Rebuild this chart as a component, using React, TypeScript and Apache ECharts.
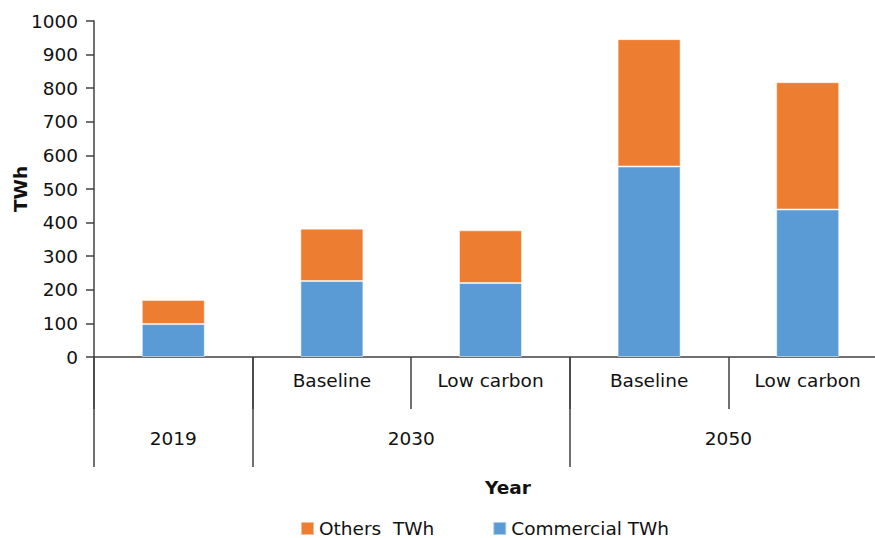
import React, { useEffect, useRef } from "react";
import * as echarts from "echarts";

const scenarioLabels = ["", "Baseline", "Low carbon", "Baseline", "Low carbon"];
const yearSlots = ["", "2019", "", "", "2030", "", "", "", "2050", "", ""];
const yearTickSlots = [0, 2, 6, 10];
const commercialTWh = [98, 226, 220, 567, 439];
const othersTWh = [72, 156, 157, 379, 379];
const yTicks = [0, 1000, 100];

const FONT = "DejaVu Sans";
const FS = 18.5;

export default function App() {
  const ref = useRef<HTMLDivElement>(null);
  useEffect(() => {
    const chart = echarts.init(ref.current!, undefined, { renderer: "svg" });
    chart.setOption({
      animation: false,
      textStyle: { fontFamily: FONT },
      grid: {
        left: 94,
        right: -12,
        top: 21,
        bottom: 181,
        containLabel: false,
        outerBoundsMode: "none",
      },
      legend: {
        left: 295,
        top: 514,
        itemWidth: 13,
        itemHeight: 13,
        itemGap: 58,
        icon: "rect",
        textStyle: { fontFamily: FONT, fontSize: FS, color: "#111" },
        data: ["Others  TWh", "Commercial TWh"],
      },
      xAxis: [
        {
          type: "category",
          data: scenarioLabels,
          position: "bottom",
          axisLine: { show: true, lineStyle: { color: "#404040", width: 1.5 } },
          axisTick: { show: true, length: 52, interval: 0, lineStyle: { color: "#404040", width: 1.5 } },
          axisLabel: { interval: 0, margin: 14, fontFamily: FONT, fontSize: FS, color: "#111" },
        },
        {
          type: "category",
          data: yearSlots,
          boundaryGap: false,
          position: "bottom",
          axisLine: { show: false },
          axisTick: {
            show: true,
            length: 110,
            interval: (i: number) => yearTickSlots.includes(i),
            lineStyle: { color: "#404040", width: 1.5 },
          },
          axisLabel: { interval: 0, margin: 72, fontFamily: FONT, fontSize: FS, color: "#111" },
        },
      ],
      yAxis: {
        type: "value",
        min: yTicks[0],
        max: yTicks[1],
        interval: yTicks[2],
        name: "TWh",
        nameLocation: "middle",
        nameGap: 64,
        nameRotate: 90,
        nameMoveOverlap: false,
        nameTextStyle: { fontFamily: FONT, fontSize: FS, fontWeight: "bold", color: "#111" },
        splitLine: { show: false },
        axisLine: { show: true, lineStyle: { color: "#404040", width: 1.5 } },
        axisTick: { show: true, length: 8, lineStyle: { color: "#404040", width: 1.5 } },
        axisLabel: {
          margin: 16,
          fontFamily: FONT,
          fontSize: FS,
          color: "#111",
          formatter: (v: number) => String(v),
        },
      },
      graphic: [
        {
          type: "text",
          x: 508,
          y: 487,
          style: {
            text: "Year",
            align: "center",
            verticalAlign: "middle",
            fontFamily: FONT,
            fontSize: FS,
            fontWeight: "bold",
            fill: "#111",
          },
        },
      ],
      series: [
        {
          name: "Commercial TWh",
          type: "bar",
          stack: "total",
          xAxisIndex: 0,
          barWidth: 63,
          data: commercialTWh,
          itemStyle: { color: "#5B9BD5", borderColor: "rgba(255,255,255,0.5)", borderWidth: 1 },
        },
        {
          name: "Others  TWh",
          type: "bar",
          stack: "total",
          xAxisIndex: 0,
          barWidth: 63,
          data: othersTWh,
          itemStyle: { color: "#ED7D31", borderColor: "rgba(255,255,255,0.5)", borderWidth: 1 },
        },
      ],
    });
    return () => chart.dispose();
  }, []);
  return (
    <div
      ref={ref}
      style={{ position: "fixed", left: 0, top: 0, width: 875, height: 538, background: "#fff" }}
    />
  );
}
